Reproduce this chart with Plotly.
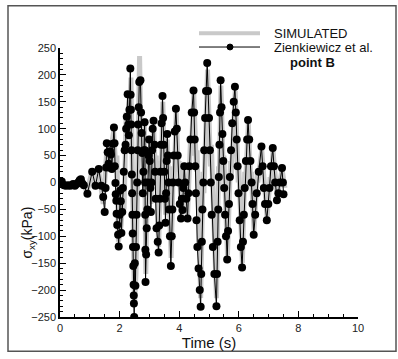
import plotly.graph_objects as go

# ---- Zienkiewicz et al. (point B) : time [s], shear stress [kPa]
zienk_time = [
    0.00, 0.06, 0.13, 0.20, 0.27, 0.33, 0.40, 0.44, 0.50, 0.56,
    0.61, 0.66, 0.70, 0.75, 0.80, 0.92, 1.08, 1.19, 1.30, 1.39,
    1.45, 1.50, 1.53, 1.55, 1.57, 1.60, 1.63, 1.66, 1.68, 1.71,
    1.74, 1.77, 1.81, 1.83, 1.84, 1.86, 1.87, 1.89, 1.90, 1.92,
    1.95, 1.97, 2.00, 2.02, 2.04, 2.06, 2.09, 2.11, 2.14, 2.17,
    2.20, 2.22, 2.24, 2.27, 2.29, 2.31, 2.33, 2.36, 2.37, 2.38,
    2.39, 2.40, 2.41, 2.42, 2.43, 2.44, 2.45, 2.46, 2.47, 2.475,
    2.48, 2.49, 2.51, 2.53, 2.55, 2.57, 2.59, 2.61, 2.62, 2.64,
    2.66, 2.70, 2.72, 2.74, 2.76, 2.78, 2.80, 2.82, 2.84, 2.85,
    2.855, 2.86, 2.865, 2.87, 2.89, 2.91, 2.93, 2.95, 2.97, 2.99,
    3.01, 3.03, 3.05, 3.07, 3.09, 3.11, 3.14, 3.17, 3.19, 3.21,
    3.24, 3.28, 3.31, 3.33, 3.35, 3.37, 3.39, 3.41, 3.44, 3.46,
    3.48, 3.50, 3.52, 3.54, 3.56, 3.58, 3.60, 3.62, 3.64, 3.66,
    3.69, 3.72, 3.75, 3.77, 3.79, 3.82, 3.85, 3.89, 3.92, 3.95,
    3.98, 4.02, 4.06, 4.09, 4.11, 4.14, 4.17, 4.20, 4.24, 4.28,
    4.31, 4.34, 4.38, 4.42, 4.48, 4.50, 4.52, 4.54, 4.56, 4.58,
    4.61, 4.65, 4.69, 4.72, 4.74, 4.76, 4.78, 4.81, 4.84, 4.87,
    4.90, 4.94, 4.97, 5.00, 5.03, 5.06, 5.09, 5.13, 5.18, 5.25,
    5.27, 5.29, 5.31, 5.33, 5.35, 5.37, 5.39, 5.42, 5.45, 5.48,
    5.51, 5.54, 5.57, 5.61, 5.64, 5.67, 5.70, 5.74, 5.78, 5.83,
    5.87, 5.90, 5.93, 5.96, 5.99, 6.03, 6.07, 6.11, 6.14, 6.17,
    6.20, 6.24, 6.28, 6.31, 6.35, 6.39, 6.43, 6.46, 6.50, 6.55,
    6.60, 6.67, 6.76, 6.80, 6.84, 6.88, 6.94, 6.99, 7.03, 7.08,
    7.14, 7.18, 7.22, 7.28, 7.33, 7.38, 7.45, 7.48, 7.50,
]
zienk_tau = [
    0, 2, -5, -6, -5, -6, -5, -3, -6, -3,
    0, 4, 6, -2, -5, -21, 20, -6, 25, -6,
    -27, -55, -10, 28, 73, 56, 35, 28, 58, 52,
    25, 72, 102, 73, 30, -1, -22, -34, -58, -79,
    -97, -119, -60, -15, -35, -94, -55, -10, 20, 60,
    70, 100, 122, 164, 108, 88, 135, 212, 163, 135,
    108, 60, 15, -20, -60, -95, -120, -155, -190, -210,
    -225, -250, -150, -192, -120, -60, 0, 60, 108, 140,
    187, 190, 130, 92, 55, -20, 20, 60, 112, 60,
    0, -60, -125, -185, -134, -85, -50, 0, 50, 80,
    40, -10, -55, 0, 60, 100, 115, 70, 20, -30,
    -85, -110, -130, -80, -30, 20, 70, 110, 161, 120,
    70, 20, -30, -75, -20, 40, 90, 50, 0, -50,
    -100, -155, -100, -50, 0, 50, 95, 137, 100, 50,
    0, -40, -67, -30, -51, -10, 30, 0, -30, -67,
    -20, 30, 80, 130, 171, 130, 80, 30, -20, -70,
    -120, -160, -200, -231, -170, -110, -50, 0, 60, 120,
    170, 222, 170, 120, 60, 0, -60, -120, -170, -230,
    -170, -110, -50, 10, 70, 130, 190, 140, 90, 40,
    -10, -60, -100, -143, -90, -40, 10, 60, 110, 150,
    178, 130, 80, 30, -20, -70, -120, -158, -110, -60,
    -10, 40, 80, 116, 80, 40, 0, -40, -97, -60,
    -20, 20, 67, 30, -10, -40, -70, -40, -10, 30,
    64, 30, 0, -33, -20, 0, 27, 0, -22,
]

# ---- SIMULATED : time [s], shear stress [kPa]
sim_time = [
    0.00, 0.20, 0.40, 0.60, 0.75, 0.90, 1.05, 1.20, 1.30, 1.45,
    1.57, 1.65, 1.80, 1.88, 1.91, 1.96, 2.05, 2.12, 2.15, 2.22,
    2.30, 2.38, 2.44, 2.46, 2.50, 2.55, 2.60, 2.62, 2.67, 2.72,
    2.75, 2.80, 2.83, 2.88, 2.95, 3.00, 3.05, 3.14, 3.20, 3.23,
    3.31, 3.38, 3.40, 3.45, 3.54, 3.60, 3.66, 3.68, 3.73, 3.80,
    3.83, 3.90, 3.97, 4.00, 4.07, 4.15, 4.28, 4.38, 4.40, 4.49,
    4.58, 4.60, 4.72, 4.80, 4.83, 4.95, 5.05, 5.08, 5.25, 5.32,
    5.34, 5.40, 5.48, 5.50, 5.62, 5.72, 5.75, 5.88, 5.98, 6.00,
    6.12, 6.20, 6.22, 6.32, 6.40, 6.42, 6.51, 6.62, 6.64, 6.77,
    6.85, 6.87, 6.95, 7.05, 7.07, 7.15, 7.29, 7.45, 7.55,
]
sim_tau = [
    0, -3, -5, -2, 5, -18, 15, -3, 20, -40,
    60, 40, 95, 20, 50, -110, -80, -20, -50, 130,
    90, 195, -60, -20, -230, -170, 40, 10, 235, 80,
    110, 0, 120, -170, 60, 20, -40, 105, 20, 50,
    -120, 40, 10, 150, -60, 80, -40, -10, -140, 30,
    0, 130, 20, 40, -60, 25, -60, 80, 50, 165,
    20, 60, -215, 20, -20, 210, 30, 70, -215, 30,
    -10, 180, 20, 50, -135, 40, 10, 170, 0, 30,
    -150, 20, -10, 110, 0, 20, -90, 20, 0, 60,
    0, 15, -65, 10, -5, 58, -30, 25, -10,
]

x_ticks = [0, 2, 4, 6, 8, 10]
y_ticks = [-250, -200, -150, -100, -50, 0, 50, 100, 150, 200, 250]

assert len(zienk_time) == len(zienk_tau)
assert len(sim_time) == len(sim_tau)

fig = go.Figure()
fig.add_trace(go.Scatter(
    x=sim_time, y=sim_tau, mode="lines", name="SIMULATED",
    line=dict(color="#c9c9c9", width=5), showlegend=False,
))
fig.add_trace(go.Scatter(
    x=zienk_time, y=zienk_tau, mode="lines+markers", name="Zienkiewicz et al.",
    line=dict(color="black", width=1),
    marker=dict(color="black", size=8, symbol="circle"), showlegend=False,
))

FONT = "Liberation Sans, Arial, sans-serif"
axis_common = dict(
    showline=True, linecolor="black", linewidth=1.5, mirror=False,
    ticks="inside", ticklen=6, tickwidth=1.2, tickcolor="black",
    showgrid=False, zeroline=False,
    tickfont=dict(family=FONT, size=11, color="#222"),
)
fig.update_xaxes(
    range=[0, 10], tickvals=x_ticks,
    minor=dict(ticks="inside", ticklen=3, dtick=0.5, tickcolor="black", tickwidth=1),
    title=dict(text="Time (s)", font=dict(family=FONT, size=15, color="#111"), standoff=3),
    **axis_common,
)
fig.update_yaxes(
    range=[-250, 250], tickvals=y_ticks,
    minor=dict(ticks="inside", ticklen=3, dtick=10, tickcolor="black", tickwidth=1),
    **axis_common,
)

fig.update_layout(
    width=398, height=359,
    margin=dict(l=60, r=40, t=48, b=37),
    paper_bgcolor="white", plot_bgcolor="white",
    showlegend=False,
    font=dict(family=FONT),
)

# Legend / frame positioned in paper coordinates (derived from pixel layout)
W, H = 298.0, 274.0  # plot area size in px
def px(x):
    return (x - 60) / W
def py(y):
    return (322 - y) / H

shapes = [
    dict(type="rect", xref="paper", yref="paper", x0=px(8), x1=px(396), y0=py(357), y1=py(5),
         line=dict(color="#555", width=1.5), fillcolor="rgba(0,0,0,0)", layer="below"),
    dict(type="line", xref="paper", yref="paper", x0=px(199), x1=px(260), y0=py(33), y1=py(33),
         line=dict(color="#c9c9c9", width=4)),
    dict(type="line", xref="paper", yref="paper", x0=px(199), x1=px(260), y0=py(47), y1=py(47),
         line=dict(color="black", width=1)),
    dict(type="circle", xref="paper", yref="paper", x0=px(227), x1=px(233), y0=py(50), y1=py(44),
         line=dict(color="black", width=1), fillcolor="black"),
]
fig.update_layout(shapes=shapes)

annotations = [
    dict(text="SIMULATED", xref="paper", yref="paper", x=px(272), y=py(33),
         xanchor="left", yanchor="middle", showarrow=False,
         font=dict(family=FONT, size=13, color="#111")),
    dict(text="Zienkiewicz et al.", xref="paper", yref="paper", x=px(272), y=py(47),
         xanchor="left", yanchor="middle", showarrow=False,
         font=dict(family=FONT, size=13, color="#111")),
    dict(text="<b>point B</b>", xref="paper", yref="paper", x=px(288), y=py(63),
         xanchor="left", yanchor="middle", showarrow=False,
         font=dict(family=FONT, size=13, color="#111")),
    dict(text="σ<sub>xy</sub>(kPa)", xref="paper", yref="paper", x=px(28), y=py(236),
         xanchor="center", yanchor="middle", showarrow=False, textangle=-90,
         font=dict(family=FONT, size=14, color="#111")),
]
fig.update_layout(annotations=annotations)

fig.write_html("out.html")
